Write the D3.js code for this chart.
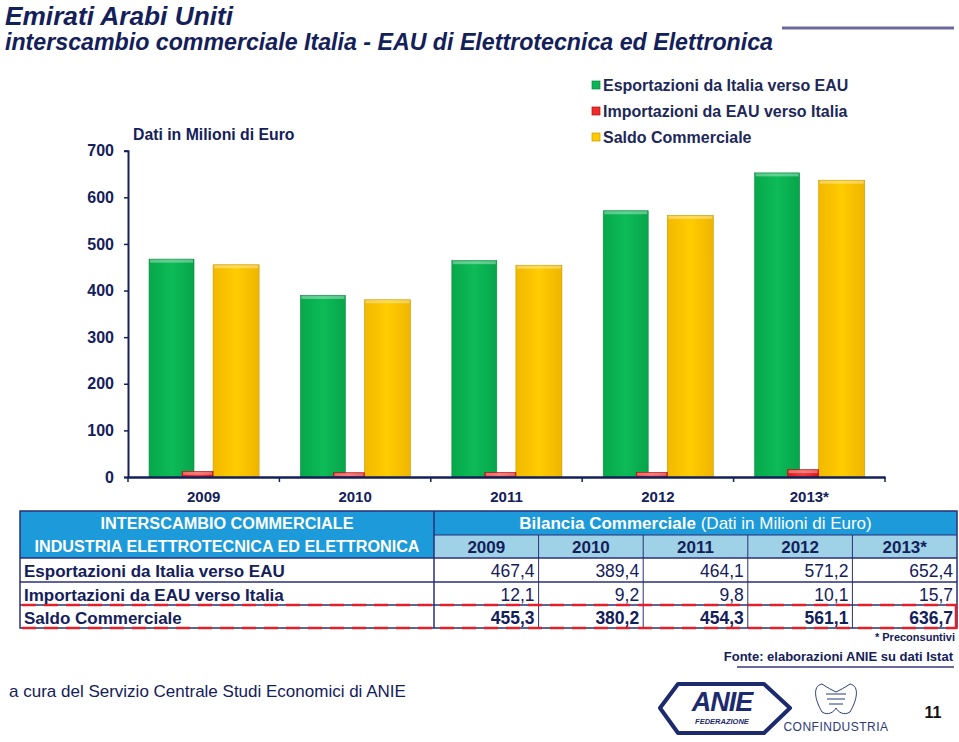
<!DOCTYPE html>
<html>
<head>
<meta charset="utf-8">
<script src="https://cdn.jsdelivr.net/npm/d3@7"></script>
<style>
html,body{margin:0;padding:0;background:#fff;}
svg{display:block;font-family:"Liberation Sans",Arial,sans-serif;}
</style>
</head>
<body>
<svg id="chart" width="959" height="742"></svg>
<script>
const categories = ["2009","2010","2011","2012","2013*"];
const esportazioni = [467.4, 389.4, 464.1, 571.2, 652.4];
const importazioni = [12.1, 9.2, 9.8, 10.1, 15.7];
const saldo = [455.3, 380.2, 454.3, 561.1, 636.7];
const yTicks = [0,100,200,300,400,500,600,700];
const seriesNames = ["Esportazioni da Italia verso EAU","Importazioni da EAU verso Italia","Saldo Commerciale"];
const rowLabels = ["Esportazioni da Italia verso EAU","Importazioni da EAU verso Italia","Saldo Commerciale"];
const fmt = v => v.toFixed(1).replace(".", ",");

const navy = "#14205a";
const svg = d3.select("#chart");
const defs = svg.append("defs");
function grad(id, c1, c2, c3){
  const g = defs.append("linearGradient").attr("id", id).attr("x1","0").attr("x2","1").attr("y1","0").attr("y2","0");
  g.append("stop").attr("offset","0%").attr("stop-color", c1);
  g.append("stop").attr("offset","50%").attr("stop-color", c2);
  g.append("stop").attr("offset","100%").attr("stop-color", c3);
}
grad("gGreen","#06a84a","#0dbb57","#07a54b");
grad("gRed","#dd1a1a","#f33a3a","#d61616");
grad("gYellow","#f2b800","#ffcc00","#efb500");
const seriesFill = ["url(#gGreen)","url(#gRed)","url(#gYellow)"];
const seriesSolid = ["#0db456","#ee2a2a","#ffc800"];
const seriesStroke = ["#0a8a40","#b01010","#c99a00"];

// Title
svg.append("text").attr("x",5).attr("y",25).attr("fill",navy)
  .style("font-weight","bold").style("font-style","italic").style("font-size","25px")
  .attr("textLength",228).attr("lengthAdjust","spacingAndGlyphs")
  .text("Emirati Arabi Uniti");
svg.append("text").attr("x",5).attr("y",50).attr("fill",navy)
  .style("font-weight","bold").style("font-style","italic").style("font-size","23px")
  .attr("textLength",768).attr("lengthAdjust","spacingAndGlyphs")
  .text("interscambio commerciale Italia - EAU di Elettrotecnica ed Elettronica");
svg.append("line").attr("x1",782).attr("x2",954).attr("y1",28).attr("y2",28).attr("stroke","#6a6a9c").attr("stroke-width",3);

// Scales
const x = d3.scaleBand().domain(categories).range([128, 885]).padding(0);
const y = d3.scaleLinear().domain([0,700]).range([477, 150.7]);
const bw = x.bandwidth();
const offs = [[0.139,0.297],[0.357,0.205],[0.562,0.304]];
const data = [esportazioni, importazioni, saldo];

// bars
[0,2,1].forEach(s=>{
  svg.append("g").selectAll("rect").data(categories).join("rect")
    .attr("x", c => x(c) + offs[s][0]*bw)
    .attr("width", offs[s][1]*bw)
    .attr("y", (c,i) => y(data[s][i]))
    .attr("height", (c,i) => y(0) - y(data[s][i]))
    .attr("fill", seriesFill[s])
    .attr("stroke", seriesStroke[s]).attr("stroke-width",0.6);
  svg.append("g").selectAll("rect").data(categories).join("rect")
    .attr("x", c => x(c) + offs[s][0]*bw + 1)
    .attr("width", offs[s][1]*bw - 2)
    .attr("y", (c,i) => y(data[s][i]) + 0.5)
    .attr("height", (c,i) => Math.min(3, y(0)-y(data[s][i])-1))
    .attr("fill", "#ffffff").attr("opacity",0.35);
});

// Axes
const yAxis = svg.append("g").attr("transform","translate(128,0)")
  .call(d3.axisLeft(y).tickValues(yTicks).tickSize(4).tickPadding(10).tickFormat(d3.format("d")));
yAxis.select(".domain").attr("stroke",navy).attr("stroke-width",2);
yAxis.selectAll(".tick line").attr("stroke",navy).attr("stroke-width",1.5);
yAxis.selectAll("text").attr("fill",navy).style("font-size","16px").style("font-weight","bold");

const xAxis = svg.append("g").attr("transform",`translate(0,${y(0)})`)
  .call(d3.axisBottom(x).tickSize(0).tickPadding(14));
xAxis.select(".domain").attr("stroke",navy).attr("stroke-width",2.5);
xAxis.selectAll("text").attr("fill",navy).style("font-size","15px").style("font-weight","bold");
svg.append("g").selectAll("line").data(categories.concat(["end"])).join("line")
  .attr("x1",(c,i)=> 128 + i*bw).attr("x2",(c,i)=>128 + i*bw)
  .attr("y1", y(0)).attr("y2", y(0)+5).attr("stroke",navy).attr("stroke-width",1.5);

svg.append("text").attr("x",133).attr("y",140).attr("fill",navy)
  .style("font-size","15.8px").style("font-weight","bold").text("Dati in Milioni di Euro");

// Legend
const leg = svg.append("g");
seriesNames.forEach((n,i)=>{
  const yy = 85 + i*26;
  leg.append("rect").attr("x",592).attr("y",yy-4).attr("width",8).attr("height",8)
    .attr("fill",seriesSolid[i]).attr("stroke",seriesStroke[i]).attr("stroke-width",0.7);
  leg.append("text").attr("x",603).attr("y",yy+5.5).attr("fill","#1d2858")
    .style("font-size","16px").style("font-weight","bold").text(n);
});

// Table
const tL = 20, tM = 434, tR = 957;
const colW = (tR - tM)/categories.length;
const tTop = 511, hMid = 535, hBot = 558;
const rowY = [558, 582, 605, 628];
const blue = "#1c9ad9", light = "#9fd2e6";
const tbl = svg.append("g");
tbl.append("rect").attr("x",tL).attr("y",tTop).attr("width",tM-tL).attr("height",hBot-tTop).attr("fill",blue);
tbl.append("rect").attr("x",tM).attr("y",tTop).attr("width",tR-tM).attr("height",hMid-tTop).attr("fill",blue);
tbl.append("rect").attr("x",tM).attr("y",hMid).attr("width",tR-tM).attr("height",hBot-hMid).attr("fill",light);
const lc = "#2a2f78";
tbl.append("rect").attr("x",tL).attr("y",tTop).attr("width",tR-tL).attr("height",rowY[3]-tTop).attr("fill","none").attr("stroke",lc).attr("stroke-width",1.5);
tbl.append("line").attr("x1",tM).attr("x2",tM).attr("y1",tTop).attr("y2",rowY[3]).attr("stroke",lc).attr("stroke-width",1.5);
tbl.append("line").attr("x1",tM).attr("x2",tR).attr("y1",hMid).attr("y2",hMid).attr("stroke",lc).attr("stroke-width",1);
[hBot, rowY[1], rowY[2]].forEach(yy=>{
  tbl.append("line").attr("x1",tL).attr("x2",tR).attr("y1",yy).attr("y2",yy).attr("stroke",lc).attr("stroke-width",1.5);
});
categories.forEach((c,i)=>{
  if(i>0) tbl.append("line").attr("x1",tM+i*colW).attr("x2",tM+i*colW).attr("y1",hMid).attr("y2",rowY[3]).attr("stroke",lc).attr("stroke-width",1);
});
[rowY[2], rowY[3]].forEach(yy=>{
  tbl.append("line").attr("x1",tL+2).attr("x2",tR).attr("y1",yy).attr("y2",yy)
    .attr("stroke","#e0202a").attr("stroke-width",2.5).attr("stroke-dasharray","14,8");
});
tbl.append("line").attr("x1",tR-1).attr("x2",tR-1).attr("y1",rowY[2]).attr("y2",rowY[3]).attr("stroke","#e0202a").attr("stroke-width",2.5);

tbl.append("text").attr("x",(tL+tM)/2).attr("y",529).attr("text-anchor","middle").attr("fill","#fff")
  .style("font-size","16px").style("font-weight","bold")
  .attr("textLength",253).attr("lengthAdjust","spacingAndGlyphs").text("INTERSCAMBIO COMMERCIALE");
tbl.append("text").attr("x",(tL+tM)/2).attr("y",552).attr("text-anchor","middle").attr("fill","#fff")
  .style("font-size","16px").style("font-weight","bold")
  .attr("textLength",385).attr("lengthAdjust","spacingAndGlyphs").text("INDUSTRIA ELETTROTECNICA ED ELETTRONICA");
const bt = tbl.append("text").attr("x",(tM+tR)/2).attr("y",529).attr("text-anchor","middle").attr("fill","#fff").style("font-size","17px");
bt.append("tspan").style("font-weight","bold").text("Bilancia Commerciale ");
bt.append("tspan").text("(Dati in Milioni di Euro)");
categories.forEach((c,i)=>{
  tbl.append("text").attr("x",tM+(i+0.5)*colW).attr("y",553).attr("text-anchor","middle").attr("fill",navy)
    .style("font-size","17px").style("font-weight","bold").text(c);
});
rowLabels.forEach((r,ri)=>{
  tbl.append("text").attr("x",24).attr("y",rowY[ri]+18.5).attr("fill",navy)
    .style("font-size","17px").style("font-weight","bold").text(r);
  data[ri].forEach((v,i)=>{
    tbl.append("text").attr("x",tM+(i+1)*colW-4).attr("y",rowY[ri]+18.5).attr("text-anchor","end").attr("fill",navy)
      .style("font-size","17.5px").style("font-weight", ri===2?"bold":"normal").text(fmt(v));
  });
});

// footnotes
svg.append("text").attr("x",955).attr("y",641).attr("text-anchor","end").attr("fill",navy)
  .style("font-size","11px").style("font-weight","bold").text("* Preconsuntivi");
svg.append("text").attr("x",953).attr("y",661).attr("text-anchor","end").attr("fill",navy)
  .style("font-size","13px").style("font-weight","bold").text("Fonte: elaborazioni ANIE su dati Istat");
svg.append("line").attr("x1",737).attr("x2",954).attr("y1",667).attr("y2",667).attr("stroke","#6a6a9c").attr("stroke-width",2);
svg.append("text").attr("x",9).attr("y",697).attr("fill",navy)
  .style("font-size","17px").text("a cura del Servizio Centrale Studi Economici di ANIE");

// ANIE logo
const logo = svg.append("g");
logo.append("path").attr("d","M678,684 L764,684 L790,708 L764,733 L678,733 L660,708 Z")
  .attr("fill","none").attr("stroke","#1c2a6e").attr("stroke-width",4).attr("stroke-linejoin","round");
logo.append("text").attr("x",722).attr("y",711).attr("text-anchor","middle").attr("fill","#1c2a6e")
  .style("font-size","27px").style("font-weight","bold").style("font-style","italic").style("letter-spacing","-1px").text("ANIE");
logo.append("text").attr("x",722).attr("y",724).attr("text-anchor","middle").attr("fill","#1c2a6e")
  .style("font-size","7.5px").style("font-weight","bold").style("font-style","italic").text("FEDERAZIONE");
// Confindustria
const cf = svg.append("g").attr("fill","none").attr("stroke","#2a3a7a").attr("stroke-width",1);
cf.append("path").attr("d","M822,684 C812,686 815,700 822,712 C828,716 834,712 836,708 C838,712 844,716 850,712 C857,700 860,686 850,684 C844,688 840,690 836,692 C832,690 828,688 822,684 Z");
cf.append("path").attr("d","M826,694 L846,694 M827,699 L845,699 M829,704 L843,704");
svg.append("text").attr("x",836).attr("y",731).attr("text-anchor","middle").attr("fill","#2a3a7a")
  .style("font-size","12px").style("letter-spacing","0.5px").text("CONFINDUSTRIA");
svg.append("text").attr("x",933).attr("y",718).attr("text-anchor","middle").attr("fill","#111")
  .style("font-size","16px").style("font-weight","bold").text("11");
</script>
</body>
</html>
